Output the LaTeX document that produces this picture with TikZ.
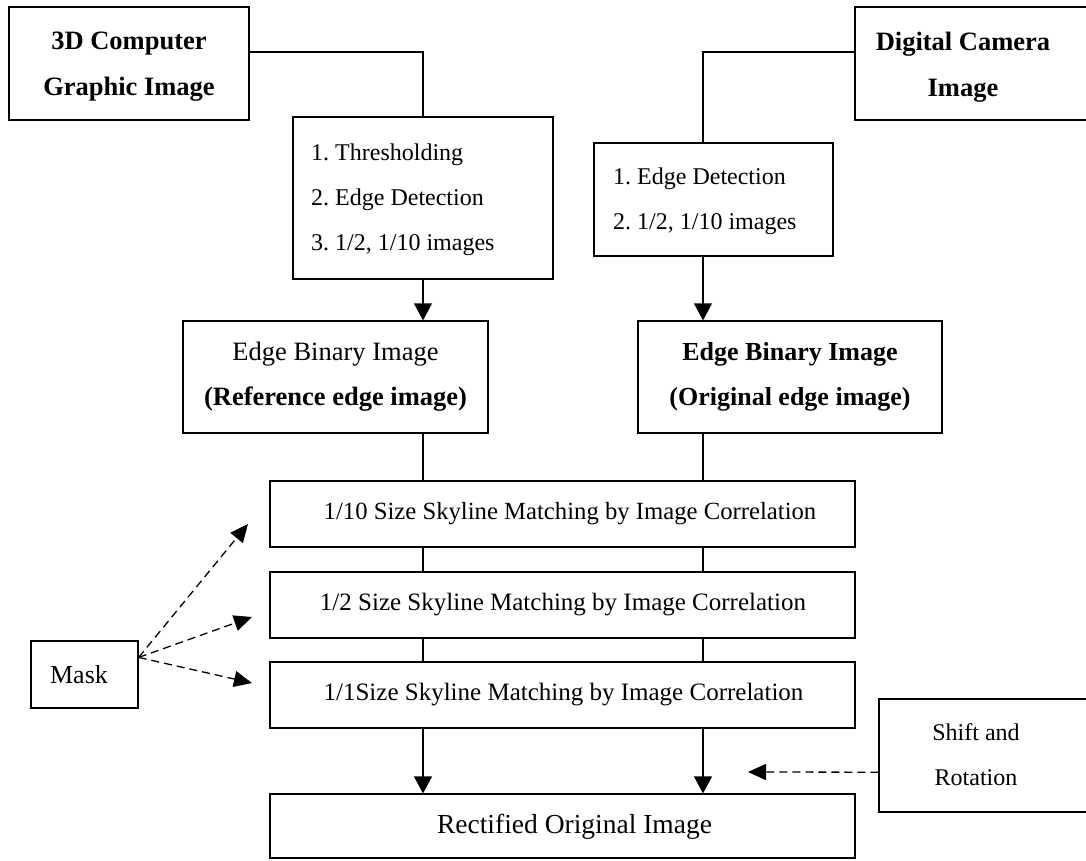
\documentclass[tikz,border=0pt]{standalone}
\usepackage{fontspec}
\setmainfont{Liberation Serif}
\usetikzlibrary{arrows.meta,calc}
\frenchspacing
\begin{document}
\begin{tikzpicture}[x=1pt,y=-1pt,
  box/.style={draw, line width=1.3pt, inner sep=0pt},
  txt/.style={inner sep=0pt, align=center},
  conn/.style={line width=1.3pt},
  arr/.style={line width=1.3pt, -{Triangle[length=17pt,width=18pt]}},
  darr/.style={line width=1.3pt, dash pattern=on 8pt off 5pt, -{Triangle[length=18pt,width=16pt]}}]
\useasboundingbox (0,0) rectangle (1086,861);
\fill[white] (0,0) rectangle (1086,861);

% top boxes
\node[box, minimum width=240pt, minimum height=113pt] (cg) at (129,63.5) {};
\node[txt, font=\bfseries\fontsize{26.5}{46}\selectfont] (cgt) at (129,67) {3D Computer\\Graphic Image};
\node[box, minimum width=237pt, minimum height=113pt] (dc) at (973.5,63.5) {};
\node[txt, font=\bfseries\fontsize{26.5}{46}\selectfont] (dct) at (963,67) {Digital Camera\\Image};

% processing boxes
\node[box, minimum width=260pt, minimum height=162pt] (thr) at (423,198) {};
\node[txt, align=left, anchor=west, font=\fontsize{24}{45}\selectfont] (thrt) at (311,200)
  {1. Thresholding\\2. Edge Detection\\3. 1/2, 1/10 images};
\node[box, minimum width=239pt, minimum height=113pt] (ed) at (713.5,199.5) {};
\node[txt, align=left, anchor=west, font=\fontsize{24}{45}\selectfont] (edt) at (613,201)
  {1. Edge Detection\\2. 1/2, 1/10 images};

% edge binary images
\node[box, minimum width=305pt, minimum height=112pt] (ebl) at (335.5,377) {};
\node[txt, font=\fontsize{26.5}{45}\selectfont] (eblt) at (335.5,377)
  {Edge Binary Image\\\textbf{(Reference edge image)}};
\node[box, minimum width=304pt, minimum height=112pt] (ebr) at (790,377) {};
\node[txt, font=\bfseries\fontsize{26}{45}\selectfont] (ebrt) at (790,377)
  {Edge Binary Image\\(Original edge image)};

% matching boxes
\node[box, minimum width=585pt, minimum height=66pt] (m10) at (562.5,514) {};
\node[txt, font=\fontsize{24.7}{30}\selectfont] (m10t) at (570,514) {1/10 Size Skyline Matching by Image Correlation};
\node[box, minimum width=585pt, minimum height=66pt] (m2) at (562.5,605) {};
\node[txt, font=\fontsize{25}{30}\selectfont] (m2t) at (563,605) {1/2 Size Skyline Matching by Image Correlation};
\node[box, minimum width=585pt, minimum height=66pt] (m1) at (562.5,695) {};
\node[txt, font=\fontsize{25}{30}\selectfont] (m1t) at (563.5,695) {1/1Size Skyline Matching by Image Correlation};
\node[box, minimum width=585pt, minimum height=64pt] (rect) at (562.5,826) {};
\node[txt, font=\fontsize{27.5}{30}\selectfont] (rectt) at (574.5,827) {Rectified Original Image};

% side boxes
\node[box, minimum width=107pt, minimum height=67pt] (mask) at (84.5,674.5) {};
\node[txt, font=\fontsize{26}{30}\selectfont] (maskt) at (79,675) {Mask};
\node[box, minimum width=213pt, minimum height=113pt] (sr) at (985.5,755.5) {};
\node[txt, font=\fontsize{24}{45}\selectfont] (srt) at (976,755) {Shift and\\Rotation};

% connectors
\coordinate (lx) at (423,0);
\coordinate (rx) at (703,0);
\draw[conn] ($(cg.north east)!0.4!(cg.south east)$) -| (thr.north);
\draw[conn] ($(dc.north west)!0.4!(dc.south west)$) -| (ed.north -| rx);
\draw[arr] (thr.south) -- (thr.south |- ebl.north);
\draw[arr] (ed.south -| rx) -- (ebr.north -| rx);
\draw[conn] (ebl.south -| lx) -- (m10.north -| lx);
\draw[conn] (ebr.south -| rx) -- (m10.north -| rx);
\draw[conn] (m10.south -| lx) -- (m2.north -| lx);
\draw[conn] (m10.south -| rx) -- (m2.north -| rx);
\draw[conn] (m2.south -| lx) -- (m1.north -| lx);
\draw[conn] (m2.south -| rx) -- (m1.north -| rx);
\draw[arr] (m1.south -| lx) -- (rect.north -| lx);
\draw[arr] (m1.south -| rx) -- (rect.north -| rx);

% dashed arrows
\coordinate (ms) at ($(mask.north east)!0.25!(mask.south east)$);
\coordinate (t1) at (248,524);
\coordinate (t2) at (252,617);
\coordinate (t3) at (252,683);
\draw[darr] (ms) -- (t1);
\draw[darr] (ms) -- (t2);
\draw[darr] (ms) -- (t3);
\coordinate (srs) at ($(sr.north west)!0.646!(sr.south west)$);
\coordinate (sre) at (748,772);
\draw[darr] (srs) -- (sre);
\end{tikzpicture}
\end{document}
